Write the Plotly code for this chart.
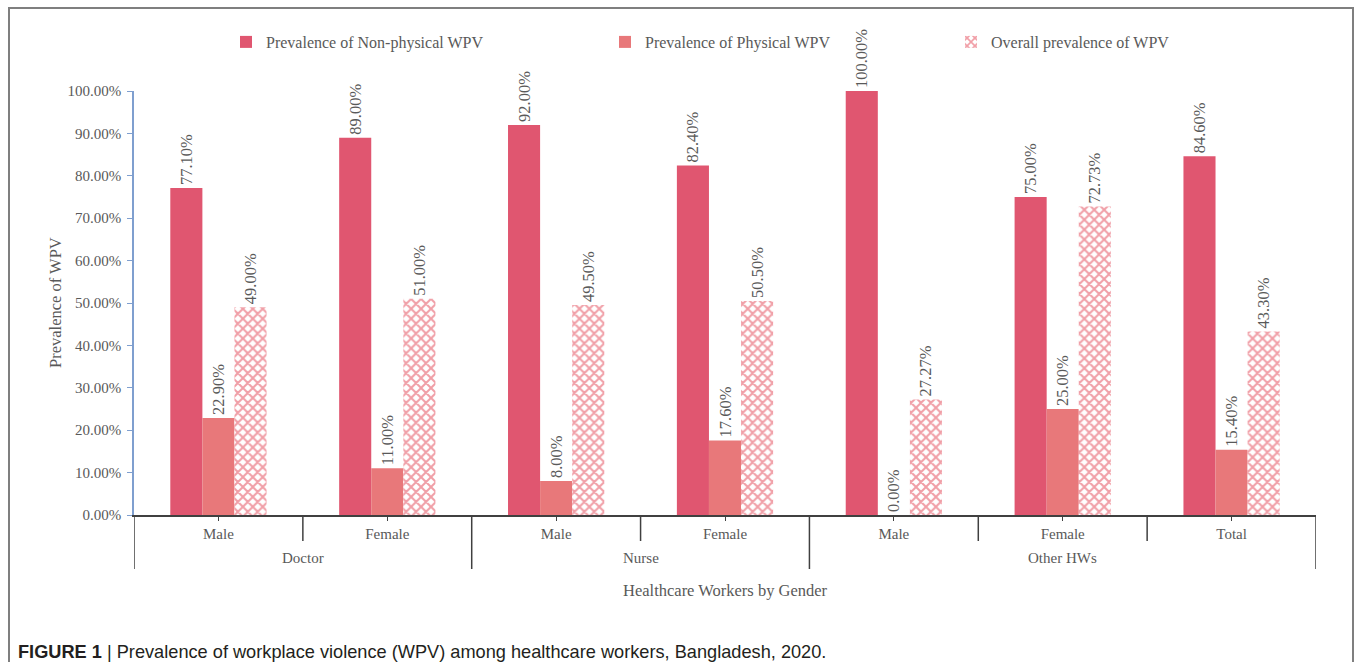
import plotly.graph_objects as go

# Healthcare worker groups (parent level) and gender / total (child level)
groups = ["Doctor", "Nurse", "Other HWs"]
group_centers = [0.5, 2.5, 5.0]
subgroups = ["Male", "Female", "Male", "Female", "Male", "Female", "Total"]

# Prevalence values (%)
non_physical = [77.10, 89.00, 92.00, 82.40, 100.00, 75.00, 84.60]
physical = [22.90, 11.00, 8.00, 17.60, 0.00, 25.00, 15.40]
overall = [49.00, 51.00, 49.50, 50.50, 27.27, 72.73, 43.30]

y_ticks = [0, 10, 20, 30, 40, 50, 60, 70, 80, 90, 100]

SERIF = "Liberation Serif"
GRAY = "#595959"
C_NONPHYS = "#E05670"
C_PHYS = "#E8787A"
C_HATCH = "#E23E4E"

x = list(range(len(subgroups)))


def labels(vals):
    return [f"{v:.2f}%" for v in vals]


label_font = dict(family=SERIF, size=16.5, color=GRAY)

fig = go.Figure()
fig.add_trace(go.Bar(
    x=x, y=non_physical, name="Prevalence of Non-physical WPV",
    marker=dict(color=C_NONPHYS, line=dict(width=0)),
    text=labels(non_physical), textposition="outside", textangle=-90,
    textfont=label_font, cliponaxis=False, constraintext="none",
    legend="legend",
))
fig.add_trace(go.Bar(
    x=x, y=physical, name="Prevalence of Physical WPV",
    marker=dict(color=C_PHYS, line=dict(width=0)),
    text=labels(physical), textposition="outside", textangle=-90,
    textfont=label_font, cliponaxis=False, constraintext="none",
    legend="legend2",
))
fig.add_trace(go.Bar(
    x=x, y=overall, name="Overall prevalence of WPV",
    marker=dict(color="white", line=dict(width=0),
                pattern=dict(shape="x", fgcolor=C_HATCH, bgcolor="white",
                             size=7, solidity=0.5)),
    text=labels(overall), textposition="outside", textangle=-90,
    textfont=label_font, cliponaxis=False, constraintext="none",
    legend="legend3",
))

# Plot area in pixels: left 134, right 1316, top 91, bottom 515
L, R, T, B = 134, 1316, 91, 515
W_PX, H_PX = 1355, 662
pw, ph = R - L, B - T


def px_x(p):
    return (p - L) / pw


def px_y(p):
    return (B - p) / ph


shapes = []
# category separators below the axis
for xv in [0.5, 2.5, 4.5, 5.5]:
    shapes.append(dict(type="line", xref="x", yref="paper", x0=xv, x1=xv,
                       y0=0, y1=px_y(541), line=dict(color="#404040", width=1.5)))
for xv in [-0.5, 1.5, 3.5, 6.5]:
    shapes.append(dict(type="line", xref="x", yref="paper", x0=xv, x1=xv,
                       y0=0, y1=px_y(569), line=dict(color="#404040", width=1.5)))
# outer frame
shapes.append(dict(type="rect", xref="paper", yref="paper",
                   x0=px_x(9), x1=px_x(1353), y0=px_y(680), y1=px_y(8),
                   line=dict(color="#7F7F7F", width=2), fillcolor="rgba(0,0,0,0)",
                   layer="below"))

title_font = dict(family=SERIF, size=16.5, color=GRAY)
annotations = []
for name, xc in zip(groups, group_centers):
    annotations.append(dict(text=name, x=xc, xref="x", y=px_y(558), yref="paper",
                            showarrow=False, font=dict(family=SERIF, size=15, color=GRAY),
                            xanchor="center", yanchor="middle"))
annotations.append(dict(text="Healthcare Workers by Gender", x=px_x(725), xref="paper",
                        y=px_y(590), yref="paper", showarrow=False, font=title_font,
                        xanchor="center", yanchor="middle"))
annotations.append(dict(text="Prevalence of WPV", x=px_x(55), xref="paper",
                        y=px_y(303), yref="paper", showarrow=False, textangle=-90,
                        font=title_font, xanchor="center", yanchor="middle"))
annotations.append(dict(
    text="<b>FIGURE 1</b> | Prevalence of workplace violence (WPV) among healthcare workers, Bangladesh, 2020.",
    x=px_x(16), xref="paper", y=px_y(652), yref="paper", showarrow=False,
    font=dict(family="Liberation Sans, Arial", size=18.2, color="#231F20"),
    xanchor="left", yanchor="middle"))

legend_font = dict(family=SERIF, size=16, color=GRAY)
legend_common = dict(orientation="h", yanchor="middle", xanchor="left",
                     y=px_y(42), font=legend_font, bgcolor="rgba(0,0,0,0)",
                     itemwidth=30)

fig.update_layout(
    width=W_PX, height=H_PX,
    margin=dict(l=L, r=W_PX - R, t=T, b=H_PX - B, pad=0),
    paper_bgcolor="white", plot_bgcolor="white",
    barmode="group", bargap=0.43, bargroupgap=0,
    showlegend=True,
    shapes=shapes, annotations=annotations,
    legend=dict(x=px_x(226), **legend_common),
    legend2=dict(x=px_x(605), **legend_common),
    legend3=dict(x=px_x(951), **legend_common),
    xaxis=dict(
        range=[-0.5, 6.5], tickmode="array", tickvals=x, ticktext=subgroups,
        ticks="outside", ticklen=4, tickcolor="#404040",
        showline=True, linecolor="#404040", linewidth=1.5,
        showgrid=False, zeroline=False,
        tickfont=dict(family=SERIF, size=15, color=GRAY),
    ),
    yaxis=dict(
        range=[0, 100], tickmode="array", tickvals=y_ticks,
        ticktext=[f"{v:.2f}%" for v in y_ticks],
        ticks="outside", ticklen=5, tickcolor="#7F9FCF",
        ticklabelstandoff=3,
        showline=True, linecolor="#7F9FCF", linewidth=1.5,
        showgrid=False, zeroline=False,
        tickfont=dict(family=SERIF, size=15, color=GRAY),
    ),
)

fig.write_html("out.html")
